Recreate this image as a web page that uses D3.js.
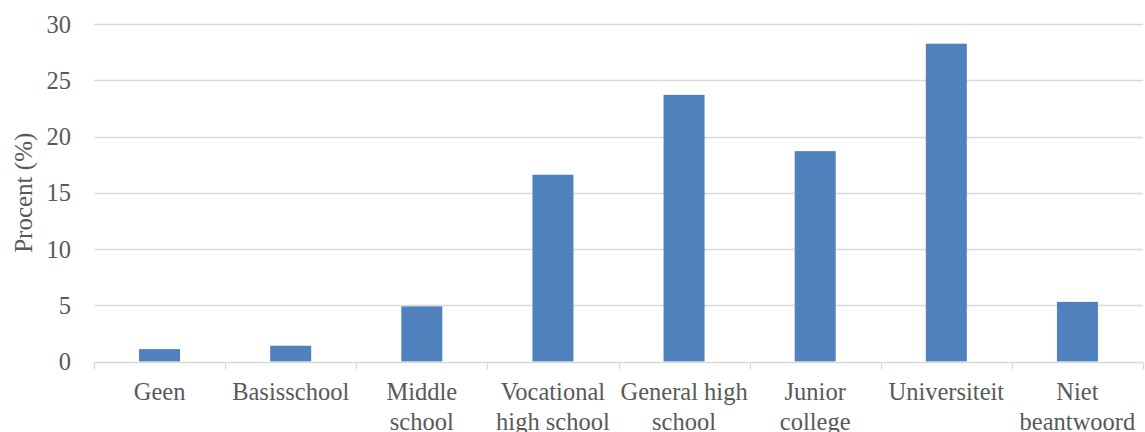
<!DOCTYPE html>
<html><head><meta charset="utf-8">
<script src="https://cdn.jsdelivr.net/npm/d3@7"></script>
<style>body{margin:0;background:#fff}</style>
</head><body>
<svg id="chart" width="1145" height="432"></svg>
<script>
const categories = [["Geen"],["Basisschool"],["Middle","school"],["Vocational","high school"],["General high","school"],["Junior","college"],["Universiteit"],["Niet","beantwoord"]];
const values = [1.1, 1.4, 4.9, 16.6, 23.7, 18.7, 28.25, 5.3];
const yTicks = [0, 5, 10, 15, 20, 25, 30];
const yTitle = "Procent (%)";

const font = "'Liberation Serif', serif";
const svg = d3.select("#chart");
const m = {left: 94, right: 2, top: 24, bottom: 70.5};
const W = 1145, H = 432;
const keys = categories.map((c, i) => i);
const x = d3.scaleBand().domain(keys).range([m.left, W - m.right]).paddingInner(0).paddingOuter(0);
const y = d3.scaleLinear().domain([0, 30]).range([H - m.bottom, m.top]);

// gridlines
svg.append("g").selectAll("line").data(yTicks.filter(t => t > 0)).join("line")
  .attr("x1", m.left).attr("x2", W - m.right)
  .attr("y1", d => Math.round(y(d)) + 0.5).attr("y2", d => Math.round(y(d)) + 0.5)
  .attr("stroke", "#d9d9d9").attr("stroke-width", 1.3);

// y labels
svg.append("g").selectAll("text").data(yTicks).join("text")
  .attr("x", 71).attr("y", d => y(d)).attr("dy", "0.35em")
  .attr("text-anchor", "end").attr("font-family", font).attr("font-size", 24.5)
  .attr("fill", "#595959").text(d => d);

// bars
const bw = 41;
svg.append("g").selectAll("rect").data(values).join("rect")
  .attr("x", (d, i) => x(i) + x.bandwidth() / 2 - bw / 2)
  .attr("width", bw)
  .attr("y", d => y(d))
  .attr("height", d => y(0) - y(d))
  .attr("fill", "#4f81bd");

// x axis
const x0 = Math.round(y(0)) + 0.5;
svg.append("line").attr("x1", m.left).attr("x2", W - m.right).attr("y1", x0).attr("y2", x0)
  .attr("stroke", "#d9d9d9").attr("stroke-width", 1.3);
const bounds = keys.map(k => x(k)).concat([x(keys[keys.length - 1]) + x.bandwidth()]);
svg.append("g").selectAll("line").data(bounds).join("line")
  .attr("x1", d => Math.round(d) + 0.5).attr("x2", d => Math.round(d) + 0.5)
  .attr("y1", x0).attr("y2", x0 + 7)
  .attr("stroke", "#d9d9d9").attr("stroke-width", 1.3);

// x labels
const lab = svg.append("g").selectAll("text").data(categories).join("text")
  .attr("text-anchor", "middle").attr("font-family", font).attr("font-size", 24.5)
  .attr("fill", "#595959")
  .attr("transform", (d, i) => `translate(${x(i) + x.bandwidth() / 2},400)`);
lab.selectAll("tspan").data(d => d).join("tspan")
  .attr("x", 0).attr("y", (d, j) => j * 30).text(d => d);

// y title
svg.append("text").attr("transform", `translate(32,${(y(0) + y(30)) / 2}) rotate(-90)`)
  .attr("text-anchor", "middle").attr("font-family", font).attr("font-size", 25)
  .attr("fill", "#595959").text(yTitle);
</script>
</body></html>
